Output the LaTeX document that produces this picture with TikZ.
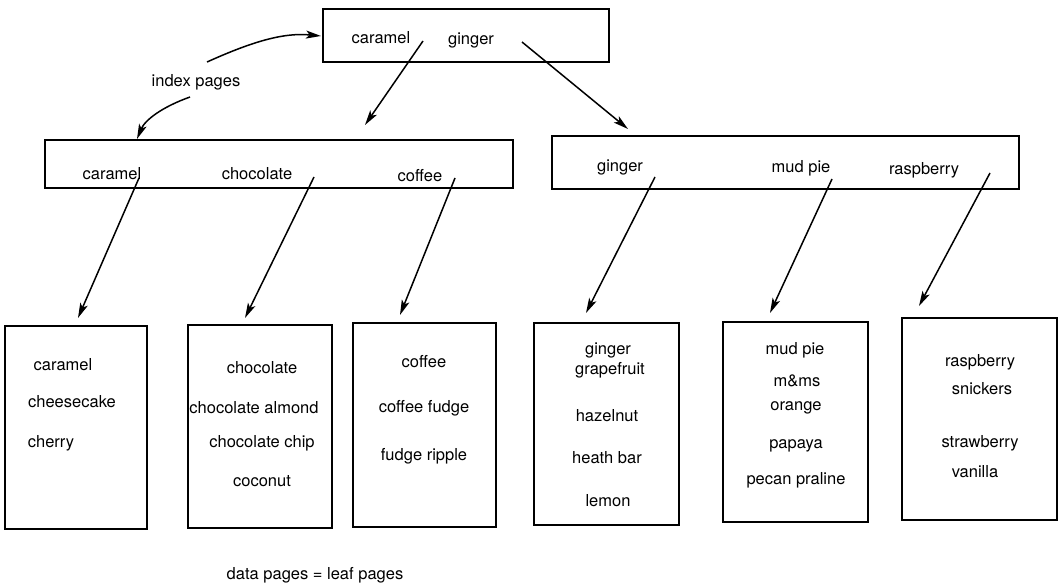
\documentclass[tikz,border=0pt]{standalone}
\usepackage{fontspec}
\setmainfont{TeX Gyre Heros}
\usetikzlibrary{arrows.meta}
\begin{document}
\begin{tikzpicture}[x=1pt,y=-1pt,
  page/.style={draw, line width=1.6pt, inner sep=0pt},
  lbl/.style={inner sep=0pt, font=\fontsize{16.5}{18}\selectfont},
  ptr/.style={line width=1.5pt, -{Stealth[length=15pt,width=8pt,inset=3.5pt]}}]
\useasboundingbox (0,0) rectangle (1061,583);

% index pages
\node[page, minimum width=286pt, minimum height=53pt] (root) at (466,35.5) {};
\node[page, minimum width=468pt, minimum height=48pt] (ixl) at (279,164) {};
\node[page, minimum width=467pt, minimum height=53pt] (ixr) at (785.5,162.5) {};

% data pages
\node[page, minimum width=142pt, minimum height=203pt] (d1) at (76,427.5) {};
\node[page, minimum width=144pt, minimum height=203pt] (d2) at (260,426.5) {};
\node[page, minimum width=143pt, minimum height=204pt] (d3) at (424.5,425) {};
\node[page, minimum width=145pt, minimum height=202pt] (d4) at (606.5,424) {};
\node[page, minimum width=145pt, minimum height=200pt] (d5) at (795.5,422) {};
\node[page, minimum width=155pt, minimum height=202pt] (d6) at (979.5,419) {};

% keys in the index pages
\node[lbl] (rk1) at (381,38) {caramel};
\node[lbl] (rk2) at (471,40) {ginger};
\node[lbl] (lk1) at (112,174) {caramel};
\node[lbl] (lk2) at (257,174) {chocolate};
\node[lbl] (lk3) at (420,176) {coffee};
\node[lbl] (gk1) at (620,167) {ginger};
\node[lbl] (gk2) at (801,168) {mud pie};
\node[lbl] (gk3) at (924,170) {raspberry};

% records in the data pages
\node[lbl] (a1) at (63,365) {caramel};
\node[lbl] (a2) at (72,402) {cheesecake};
\node[lbl] (a3) at (51,443) {cherry};

\node[lbl] (b1) at (262,368) {chocolate};
\node[lbl] (b2) at (254,408) {chocolate almond};
\node[lbl] (b3) at (262,443) {chocolate chip};
\node[lbl] (b4) at (262,481) {coconut};

\node[lbl] (c1) at (424,362) {coffee};
\node[lbl] (c2) at (424,408) {coffee fudge};
\node[lbl] (c3) at (424,456) {fudge ripple};

\node[lbl] (e1) at (608,350) {ginger};
\node[lbl] (e2) at (610,370) {grapefruit};
\node[lbl] (e3) at (607,416) {hazelnut};
\node[lbl] (e4) at (607,458) {heath bar};
\node[lbl] (e5) at (608,501) {lemon};

\node[lbl] (f1) at (795,350) {mud pie};
\node[lbl] (f2) at (797,381) {m\&ms};
\node[lbl] (f3) at (796,408) {orange};
\node[lbl] (f4) at (796,446) {papaya};
\node[lbl] (f5) at (796,480) {pecan praline};

\node[lbl] (g1) at (980,362) {raspberry};
\node[lbl] (g2) at (982,389) {snickers};
\node[lbl] (g3) at (980,443) {strawberry};
\node[lbl] (g4) at (975,472) {vanilla};

% captions
\node[lbl] (idx) at (196,82) {index pages};
\node[lbl] (dat) at (315,575) {data pages = leaf pages};

% pointer start and end points
\coordinate (p0) at (423,41);   \coordinate (q0) at (365,125);
\coordinate (p1) at (522,42);   \coordinate (q1) at (628,129);
\coordinate (p2) at (139,178);  \coordinate (q2) at (78,318);
\coordinate (p3) at (314,177);  \coordinate (q3) at (245,318);
\coordinate (p4) at (455,178);  \coordinate (q4) at (400,315);
\coordinate (p5) at (655,177);  \coordinate (q5) at (586,313);
\coordinate (p6) at (832,179);  \coordinate (q6) at (770,313);
\coordinate (p7) at (990,173);  \coordinate (q7) at (919,306);
\coordinate (s1) at (207,62);   \coordinate (t1) at (321,36);
\coordinate (s2) at (190,97);   \coordinate (t2) at (137,139);

% pointers down the tree
\draw[ptr] (p0) -- (q0);
\draw[ptr] (p1) -- (q1);
\draw[ptr] (p2) -- (q2);
\draw[ptr] (p3) -- (q3);
\draw[ptr] (p4) -- (q4);
\draw[ptr] (p5) -- (q5);
\draw[ptr] (p6) -- (q6);
\draw[ptr] (p7) -- (q7);

% caption arrows
\draw[ptr] (s1) .. controls (245,45) and (280,32) .. (t1);
\draw[ptr] (s2) .. controls (162,107) and (145,120) .. (t2);
\end{tikzpicture}
\end{document}
